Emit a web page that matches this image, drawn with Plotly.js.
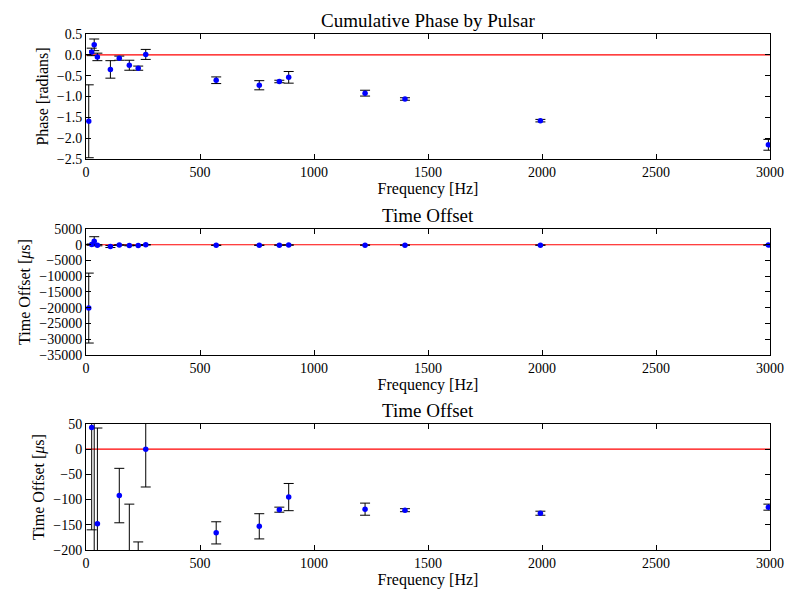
<!DOCTYPE html>
<html>
<head>
<meta charset="utf-8">
<script src="https://cdn.plot.ly/plotly-3.0.1.min.js"></script>
<style>
  body { margin: 0; background: #fff; }
  #chart { width: 800px; height: 600px; }
</style>
</head>
<body>
<div id="chart"></div>
<script>
// Values

// pulsar frequencies [Hz]
var freqs = [12, 25, 36, 50, 107, 146, 190, 229, 262, 571, 760, 848, 889, 1224, 1399, 1993, 2993];

// cumulative phase [radians] and its error
var phase = [-1.595, 0.07, 0.24, -0.05, -0.35, -0.08, -0.25, -0.32, 0.01, -0.61, -0.73, -0.64, -0.54, -0.92, -1.06, -1.58, -2.16];
var phaseErr = [0.875, 0.09, 0.14, 0.09, 0.21, 0.05, 0.12, 0.05, 0.12, 0.08, 0.11, 0.03, 0.14, 0.07, 0.03, 0.03, 0.13];

// time offset [micro seconds] and its error
var offset = [-20100, 43, 1150, -148, -560, -92, -220, -222, 0, -166, -153, -120, -95, -119, -121, -127, -115];
var offsetErr = [11100, 203, 1400, 190, 330, 54, 111, 38, 75, 22, 25, 5, 27, 12, 3, 4, 6];

// red reference line at zero
var zeroX = [0, 3000];
var zeroY = [0, 0];

var serif = 'Liberation Serif, DejaVu Serif, serif';

// Points with vertical error bars
function errorTrace(yvals, yerr, xaxis, yaxis){
    return {
        x: freqs,
        y: yvals,
        xaxis: xaxis,
        yaxis: yaxis,
        type: 'scatter',
        mode: 'markers',
        marker: {color: '#0000ff', size: 5.5},
        error_y: {
            type: 'data',
            array: yerr,
            visible: true,
            color: '#000000',
            thickness: 1,
            width: 5
        },
        hoverinfo: 'skip'
    };
}

function zeroTrace(xaxis, yaxis){
    return {
        x: zeroX,
        y: zeroY,
        xaxis: xaxis,
        yaxis: yaxis,
        type: 'scatter',
        mode: 'lines',
        line: {color: '#ff0000', width: 1.2},
        hoverinfo: 'skip'
    };
}

function xAxis(domainAnchor){
    return {
        anchor: domainAnchor,
        domain: [0, 1],
        range: [0, 3000],
        dtick: 500,
        ticks: 'inside',
        ticklen: 5,
        tickcolor: '#000',
        showline: true,
        linecolor: '#000',
        linewidth: 1,
        mirror: 'ticks',
        showgrid: false,
        zeroline: false,
        tickfont: {family: serif, size: 14, color: '#000'},
        title: {text: 'Frequency [Hz]', font: {family: serif, size: 16, color: '#000'}, standoff: 2}
    };
}

function yAxis(anchor, domain, range, dtick, fmt, title){
    return {
        anchor: anchor,
        domain: domain,
        range: range,
        dtick: dtick,
        tickformat: fmt,
        ticks: 'inside',
        ticklen: 5,
        tickcolor: '#000',
        showline: true,
        linecolor: '#000',
        linewidth: 1,
        mirror: 'ticks',
        showgrid: false,
        zeroline: false,
        tickfont: {family: serif, size: 14, color: '#000'},
        title: {text: title, font: {family: serif, size: 16, color: '#000'}, standoff: 4}
    };
}

var data = [
    zeroTrace('x', 'y'),
    errorTrace(phase, phaseErr, 'x', 'y'),
    zeroTrace('x2', 'y2'),
    errorTrace(offset, offsetErr, 'x2', 'y2'),
    zeroTrace('x3', 'y3'),
    errorTrace(offset, offsetErr, 'x3', 'y3')
];

var layout = {
    width: 800,
    height: 600,
    margin: {l: 86, r: 30, t: 34, b: 50},
    paper_bgcolor: '#ffffff',
    plot_bgcolor: '#ffffff',
    showlegend: false,
    font: {family: serif, color: '#000'},
    xaxis: xAxis('y'),
    yaxis: yAxis('x', [0.7578, 1], [-2.5, 0.5], 0.5, '.1f', 'Phase [radians]'),
    xaxis2: xAxis('y2'),
    yaxis2: yAxis('x2', [0.3779, 0.6221], [-35000, 5000], 5000, 'd', 'Time Offset [<i>μ</i>s]'),
    xaxis3: xAxis('y3'),
    yaxis3: yAxis('x3', [0, 0.2442], [-200, 50], 50, 'd', 'Time Offset [<i>μ</i>s]'),
    annotations: [
        {text: 'Cumulative Phase by Pulsar', xref: 'paper', yref: 'paper', x: 0.5, y: 1,
         yanchor: 'bottom', yshift: 1, showarrow: false, font: {family: serif, size: 19}},
        {text: 'Time Offset', xref: 'paper', yref: 'paper', x: 0.5, y: 0.6221,
         yanchor: 'bottom', yshift: 1, showarrow: false, font: {family: serif, size: 19}},
        {text: 'Time Offset', xref: 'paper', yref: 'paper', x: 0.5, y: 0.2442,
         yanchor: 'bottom', yshift: 1, showarrow: false, font: {family: serif, size: 19}}
    ]
};

Plotly.newPlot('chart', data, layout, {staticPlot: true});
</script>
</body>
</html>
